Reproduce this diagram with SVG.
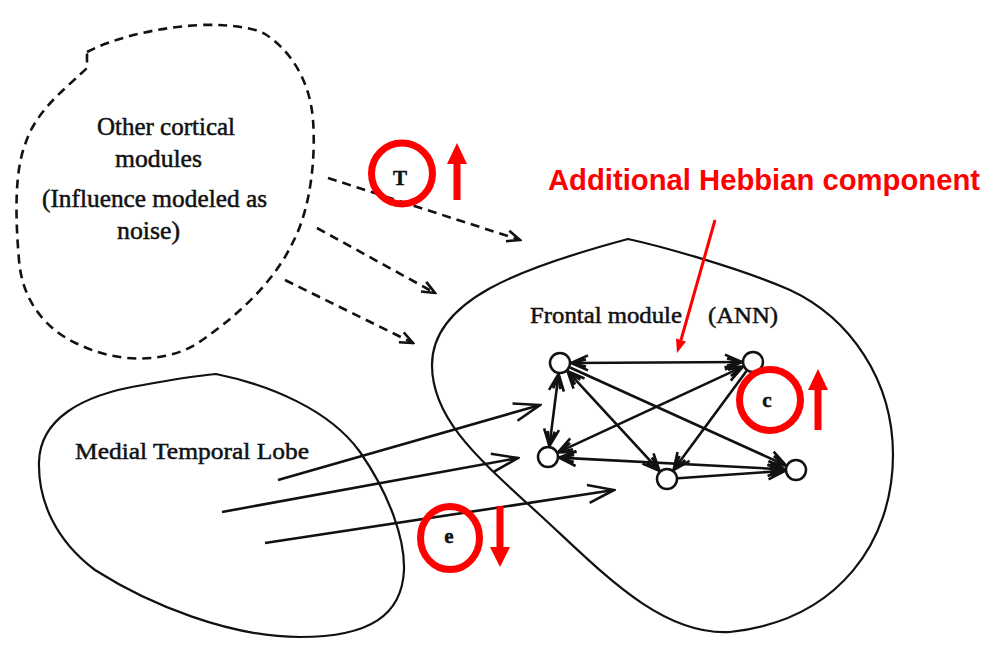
<svg xmlns="http://www.w3.org/2000/svg" width="1007" height="653" viewBox="0 0 1007 653">
<style>
.blob{fill:none;stroke:#111;stroke-width:2.2}
.dash{fill:none;stroke:#111;stroke-width:2.6;stroke-dasharray:9 6}
.lbl{font-family:"Liberation Serif","Times New Roman",serif;fill:#111;stroke:#111;stroke-width:0.5}
.edge{stroke:#111;stroke-width:2.6;fill:none}
.node{fill:#fff;stroke:#111;stroke-width:2.5}
.red{fill:none;stroke:#f00;stroke-width:7}
.redf{fill:#f00}
.hd{fill:none;stroke:#111;stroke-width:2.6;stroke-dasharray:none}
</style>
<defs>
<marker id="big" viewBox="-30 -12 32 24" refX="0" refY="0" markerWidth="32" markerHeight="24" orient="auto" markerUnits="userSpaceOnUse">
<path class="hd" d="M-26,-9 L0,0 L-26,9"/>
</marker>
<marker id="sm" viewBox="-20 -10 22 20" refX="0" refY="0" markerWidth="22" markerHeight="20" orient="auto-start-reverse" markerUnits="userSpaceOnUse">
<path class="hd" d="M-17,-7.5 L0,0 L-17,7.5 M-15,-3.5 L0,0 L-15,3.5"/>
</marker>
<marker id="dh" viewBox="-16 -8 18 16" refX="0" refY="0" markerWidth="18" markerHeight="16" orient="auto" markerUnits="userSpaceOnUse">
<path class="hd" d="M-13,-5.5 L0,0 L-13,5.5"/>
</marker>
</defs>
<rect x="0" y="0" width="1007" height="653" fill="#fff"/>

<g id="other-cortical">
<path class="dash" d="M87,52 C110,40 150,28 200,25 C230,24 255,28 265,34 C290,50 310,80 313,120 C316,160 310,210 293,242 C275,280 240,315 195,345 C165,362 120,364 80,345 C45,330 22,300 19,260 C15,215 15,170 25,145 C35,110 70,85 87,68 Z"/>
<text class="lbl" x="97" y="135" font-size="25" textLength="138" lengthAdjust="spacingAndGlyphs">Other cortical</text>
<text class="lbl" x="115" y="167" font-size="25" textLength="87" lengthAdjust="spacingAndGlyphs">modules</text>
<text class="lbl" x="42" y="207" font-size="25" textLength="225" lengthAdjust="spacingAndGlyphs">(Influence modeled as</text>
<text class="lbl" x="117" y="239" font-size="25" textLength="63" lengthAdjust="spacingAndGlyphs">noise)</text>
</g>

<g id="medial-temporal-lobe">
<path class="blob" d="M216,374 C270,385 330,410 360,452 C390,495 405,540 404,570 C402,615 370,637 300,637 C230,637 150,605 95,570 C55,540 38,500 39,462 C40,420 80,395 143,385 C170,380 195,376 216,374 Z"/>
<text class="lbl" x="75" y="459" font-size="24" textLength="234" lengthAdjust="spacingAndGlyphs">Medial Temporal Lobe</text>
</g>

<g id="frontal-module">
<path class="blob" d="M628,239 C660,246 740,268 790,290 C850,318 893,380 893,455 C893,540 840,620 730,632 C660,636 600,570 540,515 C480,460 432,420 432,365 C432,300 520,268 628,239 Z"/>
<text class="lbl" x="530" y="323" font-size="23" textLength="152" lengthAdjust="spacingAndGlyphs">Frontal module</text>
<text class="lbl" x="708" y="323" font-size="23" textLength="70" lengthAdjust="spacingAndGlyphs">(ANN)</text>
</g>

<g id="connectors">
<line class="dash" x1="328" y1="178" x2="520" y2="240" marker-end="url(#dh)"/>
<line class="dash" x1="317" y1="228" x2="435" y2="293" marker-end="url(#dh)"/>
<line class="dash" x1="285" y1="280" x2="413" y2="343" marker-end="url(#dh)"/>
<line class="edge" x1="278" y1="480" x2="540" y2="405" marker-end="url(#big)"/>
<line class="edge" x1="222" y1="512" x2="518" y2="458" marker-end="url(#big)"/>
<line class="edge" x1="265" y1="543" x2="614" y2="490" marker-end="url(#big)"/>
<line class="edge" x1="571" y1="363" x2="742" y2="362" marker-start="url(#sm)" marker-end="url(#sm)"/>
<line class="edge" x1="558.6" y1="373.9" x2="549.4" y2="446.1" marker-start="url(#sm)" marker-end="url(#sm)"/>
<line class="edge" x1="567.5" y1="371.1" x2="659.5" y2="470.9" marker-start="url(#sm)" marker-end="url(#sm)"/>
<line class="edge" x1="570" y1="367.5" x2="786" y2="465.5" marker-end="url(#sm)"/>
<line class="edge" x1="743" y1="366.6" x2="558" y2="452.4" marker-start="url(#sm)" marker-end="url(#sm)"/>
<line class="edge" x1="746.5" y1="370.9" x2="673.5" y2="470.1" marker-end="url(#sm)"/>
<line class="edge" x1="559" y1="457.6" x2="785" y2="469.4" marker-start="url(#sm)" marker-end="url(#sm)"/>
<line class="edge" x1="678" y1="478.2" x2="785" y2="470.8" marker-end="url(#sm)"/>
</g>

<g id="node-a"><circle class="node" cx="560" cy="363" r="10"/></g>
<g id="node-b"><circle class="node" cx="753" cy="362" r="10"/></g>
<g id="node-c"><circle class="node" cx="548" cy="457" r="10"/></g>
<g id="node-d"><circle class="node" cx="667" cy="479" r="10"/></g>
<g id="node-e"><circle class="node" cx="796" cy="470" r="10"/></g>

<g id="param-T">
<text class="lbl" x="400" y="185" font-size="21" font-weight="bold" text-anchor="middle">T</text>
<circle class="red" cx="402" cy="173.5" r="30.5"/>
<polygon class="redf" points="453.5,200 460.5,200 460.5,164 467,164 457,143 447,164 453.5,164"/>
</g>
<g id="param-c">
<text class="lbl" x="767" y="407" font-size="21" font-weight="bold" text-anchor="middle">c</text>
<circle class="red" cx="770" cy="400" r="30.5"/>
<polygon class="redf" points="814.5,430 821.5,430 821.5,390 828,390 818,369 808,390 814.5,390"/>
</g>
<g id="param-e">
<text class="lbl" x="449" y="543" font-size="21" font-weight="bold" text-anchor="middle">e</text>
<ellipse class="red" cx="450" cy="538" rx="29.5" ry="31.5"/>
<polygon class="redf" points="496.5,506 503.5,506 503.5,547 510,547 500,567 490,547 496.5,547"/>
</g>

<g id="hebbian-note">
<text x="548" y="190" font-family="'Liberation Sans',Arial,sans-serif" font-size="29" font-weight="bold" fill="#f00" textLength="432" lengthAdjust="spacingAndGlyphs">Additional Hebbian component</text>
<line x1="715" y1="220" x2="681" y2="340" stroke="#f00" stroke-width="3"/>
<polygon class="redf" points="686,341.5 676,338.5 677,353"/>
</g>
</svg>
